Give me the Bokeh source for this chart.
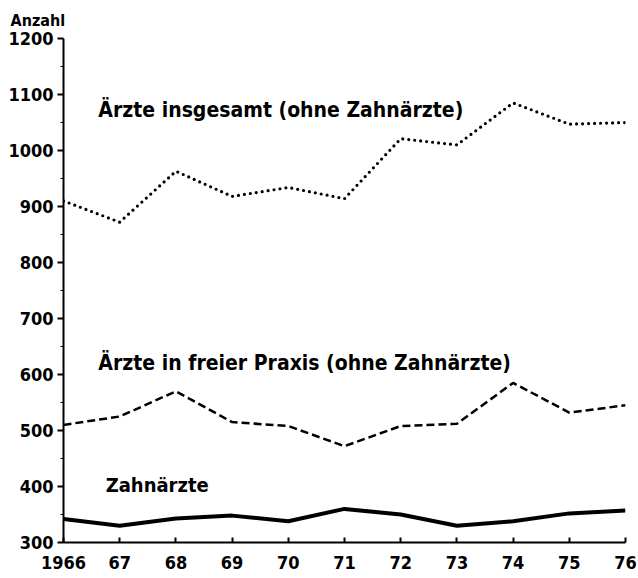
from bokeh.plotting import figure
from bokeh.models import FixedTicker, Label
from bokeh.embed import file_html
from bokeh.resources import INLINE

years = [1966, 1967, 1968, 1969, 1970, 1971, 1972, 1973, 1974, 1975, 1976]
year_labels = ["1966", "67", "68", "69", "70", "71", "72", "73", "74", "75", "76"]
aerzte_gesamt = [910, 872, 963, 918, 934, 914, 1021, 1010, 1085, 1047, 1050]
aerzte_praxis = [510, 525, 570, 515, 508, 472, 508, 512, 585, 532, 545]
zahnaerzte = [342, 330, 343, 348, 338, 360, 350, 330, 338, 352, 357]
y_ticks = [300, 400, 500, 600, 700, 800, 900, 1000, 1100, 1200]

FONT = "DejaVu Sans Condensed"

p = figure(width=638, height=578, x_range=(1966, 1976), y_range=(300, 1200),
           output_backend="svg", toolbar_location=None,
           min_border_left=63, min_border_right=13, min_border_top=37, min_border_bottom=36)
p.outline_line_color = None
p.xgrid.visible = False
p.ygrid.visible = False
p.background_fill_color = "white"

p.title.text = "Anzahl"
p.title.align = "left"
p.title.offset = -53
p.title.text_font = FONT
p.title.text_font_style = "bold"
p.title.text_font_size = "16px"
p.title.text_color = "black"
p.title.standoff = 17

p.line(years, aerzte_gesamt, line_color="black", line_width=3.2, line_dash="0 6", line_cap="round")
p.line(years, aerzte_praxis, line_color="black", line_width=2.5, line_dash="8 4")
p.line(years, zahnaerzte, line_color="black", line_width=4, line_join="round")

# axes
p.yaxis.ticker = FixedTicker(ticks=y_ticks, minor_ticks=[v + 50 for v in y_ticks[:-1]])
p.yaxis.axis_line_width = 2
p.yaxis.major_tick_out = 6
p.yaxis.major_tick_in = 0
p.yaxis.minor_tick_out = 3
p.yaxis.minor_tick_in = 0
p.yaxis.major_tick_line_width = 2
p.yaxis.major_label_text_font = FONT
p.yaxis.major_label_text_font_style = "bold"
p.yaxis.major_label_text_font_size = "18px"
p.yaxis.major_label_text_color = "black"
p.yaxis.major_label_standoff = 4

p.xaxis.ticker = FixedTicker(ticks=years)
p.xaxis.major_label_overrides = {y: l for y, l in zip(years, year_labels)}
p.xaxis.axis_line_width = 2
p.xaxis.major_tick_in = 5
p.xaxis.major_tick_out = 0
p.xaxis.minor_tick_line_color = None
p.xaxis.major_tick_line_width = 2
p.xaxis.major_label_text_font = FONT
p.xaxis.major_label_text_font_style = "bold"
p.xaxis.major_label_text_font_size = "18px"
p.xaxis.major_label_text_color = "black"
p.xaxis.major_label_standoff = 13

def lab(x, y, t, size="21px"):
    p.add_layout(Label(x=x, y=y, text=t, text_font=FONT, text_font_style="bold",
                       text_font_size=size, text_color="black", text_baseline="middle"))

lab(1966.62, 1073, "Ärzte insgesamt (ohne Zahnärzte)")
lab(1966.62, 621, "Ärzte in freier Praxis (ohne Zahnärzte)")
lab(1966.75, 402, "Zahnärzte", "20px")

open("out.html", "w").write(file_html(p, INLINE))
